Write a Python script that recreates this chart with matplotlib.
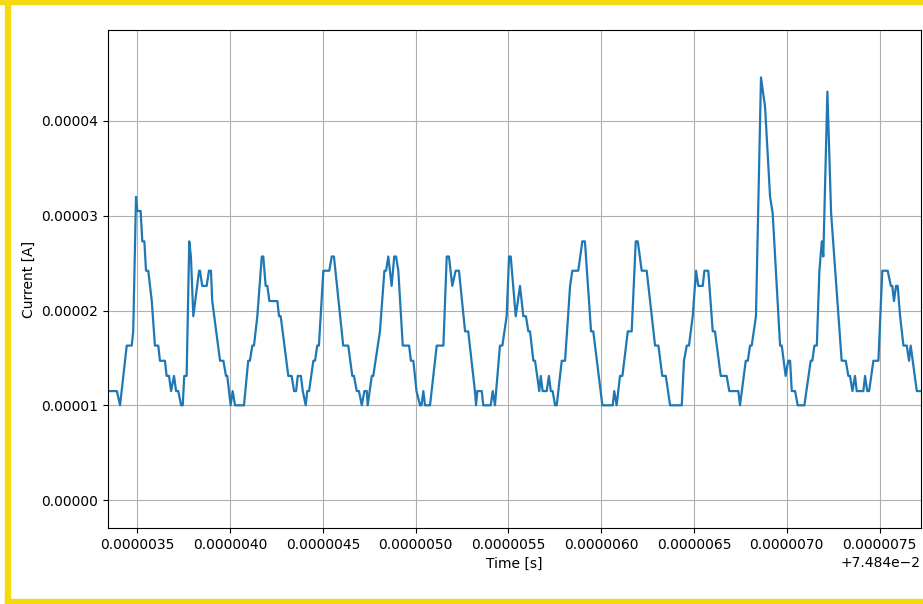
import matplotlib
matplotlib.use("Agg")
import matplotlib.pyplot as plt
from matplotlib.patches import Rectangle
import numpy as np

# probe current trace, time relative to 74.84 ms (in us), current in uA
t0 = 0.07484
t_us = [
    3.341, 3.389, 3.406, 3.442, 3.469, 3.477, 3.492, 3.499, 3.517, 3.526,
    3.537, 3.546, 3.558, 3.577, 3.594, 3.612, 3.621, 3.648, 3.657, 3.670,
    3.681, 3.697, 3.708, 3.720, 3.735, 3.744, 3.752, 3.765, 3.779, 3.788,
    3.801, 3.832, 3.837, 3.849, 3.873, 3.885, 3.896, 3.903, 3.945, 3.963,
    3.977, 3.984, 4.002, 4.013, 4.026, 4.074, 4.097, 4.106, 4.119, 4.128,
    4.146, 4.170, 4.178, 4.191, 4.200, 4.211, 4.254, 4.263, 4.272, 4.313,
    4.331, 4.344, 4.355, 4.364, 4.381, 4.391, 4.407, 4.415, 4.425, 4.448,
    4.457, 4.469, 4.478, 4.502, 4.534, 4.547, 4.559, 4.609, 4.636, 4.658,
    4.667, 4.682, 4.694, 4.709, 4.723, 4.736, 4.741, 4.763, 4.771, 4.807,
    4.831, 4.840, 4.852, 4.870, 4.884, 4.894, 4.906, 4.930, 4.964, 4.974,
    4.987, 5.004, 5.023, 5.031, 5.041, 5.050, 5.077, 5.095, 5.113, 5.149,
    5.167, 5.179, 5.197, 5.215, 5.233, 5.266, 5.283, 5.319, 5.325, 5.332,
    5.356, 5.364, 5.404, 5.415, 5.427, 5.454, 5.467, 5.490, 5.503, 5.512,
    5.539, 5.562, 5.580, 5.594, 5.607, 5.616, 5.634, 5.643, 5.666, 5.674,
    5.684, 5.706, 5.718, 5.728, 5.738, 5.751, 5.760, 5.787, 5.805, 5.832,
    5.844, 5.876, 5.898, 5.912, 5.945, 5.957, 6.006, 6.062, 6.070, 6.083,
    6.101, 6.114, 6.143, 6.164, 6.186, 6.197, 6.218, 6.245, 6.290, 6.308,
    6.329, 6.348, 6.371, 6.434, 6.446, 6.461, 6.473, 6.493, 6.511, 6.523,
    6.547, 6.556, 6.577, 6.601, 6.613, 6.644, 6.676, 6.690, 6.739, 6.748,
    6.779, 6.790, 6.802, 6.811, 6.834, 6.861, 6.883, 6.910, 6.924, 6.964,
    6.973, 6.994, 7.008, 7.018, 7.027, 7.045, 7.059, 7.095, 7.129, 7.138,
    7.149, 7.162, 7.176, 7.189, 7.197, 7.219, 7.239, 7.296, 7.318, 7.332,
    7.341, 7.354, 7.368, 7.377, 7.413, 7.422, 7.434, 7.444, 7.467, 7.494,
    7.515, 7.544, 7.561, 7.569, 7.578, 7.589, 7.598, 7.611, 7.629, 7.647,
    7.659, 7.668, 7.701, 7.718,
]
i_uA = [
    11.5, 11.5, 10.0, 16.3, 16.3, 17.8, 32.0, 30.5, 30.5, 27.3,
    27.3, 24.2, 24.2, 21.0, 16.3, 16.3, 14.7, 14.7, 13.1, 13.1,
    11.5, 13.1, 11.5, 11.5, 10.0, 10.0, 13.1, 13.1, 27.3, 25.7,
    19.4, 24.2, 24.2, 22.6, 22.6, 24.2, 24.2, 21.0, 14.7, 14.7,
    13.1, 13.1, 10.0, 11.5, 10.0, 10.0, 14.7, 14.7, 16.3, 16.3,
    19.4, 25.7, 25.7, 22.6, 22.6, 21.0, 21.0, 19.4, 19.4, 13.1,
    13.1, 11.5, 11.5, 13.1, 13.1, 11.5, 10.0, 11.5, 11.5, 14.7,
    14.7, 16.3, 16.3, 24.2, 24.2, 25.7, 25.7, 16.3, 16.3, 13.1,
    13.1, 11.5, 11.5, 10.0, 11.5, 11.5, 10.0, 13.1, 13.1, 17.8,
    24.2, 24.2, 25.7, 22.6, 25.7, 25.7, 24.2, 16.3, 16.3, 14.7,
    14.7, 11.5, 10.0, 10.0, 11.5, 10.0, 10.0, 13.1, 16.3, 16.3,
    25.7, 25.7, 22.6, 24.2, 24.2, 17.8, 17.8, 11.5, 10.0, 11.5,
    11.5, 10.0, 10.0, 11.5, 10.0, 16.3, 16.3, 19.4, 25.7, 25.7,
    19.4, 22.6, 19.4, 19.4, 17.8, 17.8, 14.7, 14.7, 11.5, 13.1,
    11.5, 11.5, 13.1, 11.5, 11.5, 10.0, 10.0, 14.7, 14.7, 22.6,
    24.2, 24.2, 27.3, 27.3, 17.8, 17.8, 10.0, 10.0, 11.5, 10.0,
    13.1, 13.1, 17.8, 17.8, 27.3, 27.3, 24.2, 24.2, 16.3, 16.3,
    13.1, 13.1, 10.0, 10.0, 14.7, 16.3, 16.3, 19.4, 24.2, 22.6,
    22.6, 24.2, 24.2, 17.8, 17.8, 13.1, 13.1, 11.5, 11.5, 10.0,
    14.7, 14.7, 16.3, 16.3, 19.4, 44.6, 41.5, 32.0, 30.3, 16.3,
    16.3, 13.1, 14.7, 14.7, 11.5, 11.5, 10.0, 10.0, 14.7, 14.7,
    16.3, 16.3, 24.2, 27.3, 25.7, 43.1, 30.3, 14.7, 14.7, 13.1,
    13.1, 11.5, 13.1, 11.5, 11.5, 13.1, 11.5, 11.5, 14.7, 14.7,
    24.2, 24.2, 22.6, 22.6, 21.0, 22.6, 22.6, 19.4, 16.3, 16.3,
    14.7, 16.3, 11.5, 11.5,
]

time = t0 + np.array(t_us) * 1e-6
current = np.array(i_uA) * 1e-6

fig = plt.figure(figsize=(9.23, 6.04), dpi=100)
ax = fig.add_axes([0.117, 0.1258, 0.8803, 0.8245])
ax.plot(time, current, color='#1f77b4', linewidth=1.6)

ax.set_xlim(t0 + 3.341e-6, t0 + 7.721e-6)
ax.set_ylim(-0.295e-5, 4.96e-5)
ax.set_xticks(t0 + np.arange(3.5, 7.6, 0.5) * 1e-6)
ax.set_yticks(np.arange(0, 5e-5, 1e-5))
ax.ticklabel_format(axis='both', style='plain')
ax.ticklabel_format(axis='x', useOffset=t0)
ax.set_xlabel('Time [s]')
ax.set_ylabel('Current [A]')
ax.grid(True)

# yellow frame around the figure
frame = '#f5d90f'
W, H = 923, 604
fig.patches.append(Rectangle((0, 1 - 4 / H), 1, 4 / H, transform=fig.transFigure,
                             color=frame, zorder=10))
fig.patches.append(Rectangle((5 / W, 0), 5 / W, 1, transform=fig.transFigure,
                             color=frame, zorder=10))
fig.patches.append(Rectangle((5 / W, 0), 1, 5 / H, transform=fig.transFigure,
                             color=frame, zorder=10))

fig.savefig('out.png', dpi=100)
